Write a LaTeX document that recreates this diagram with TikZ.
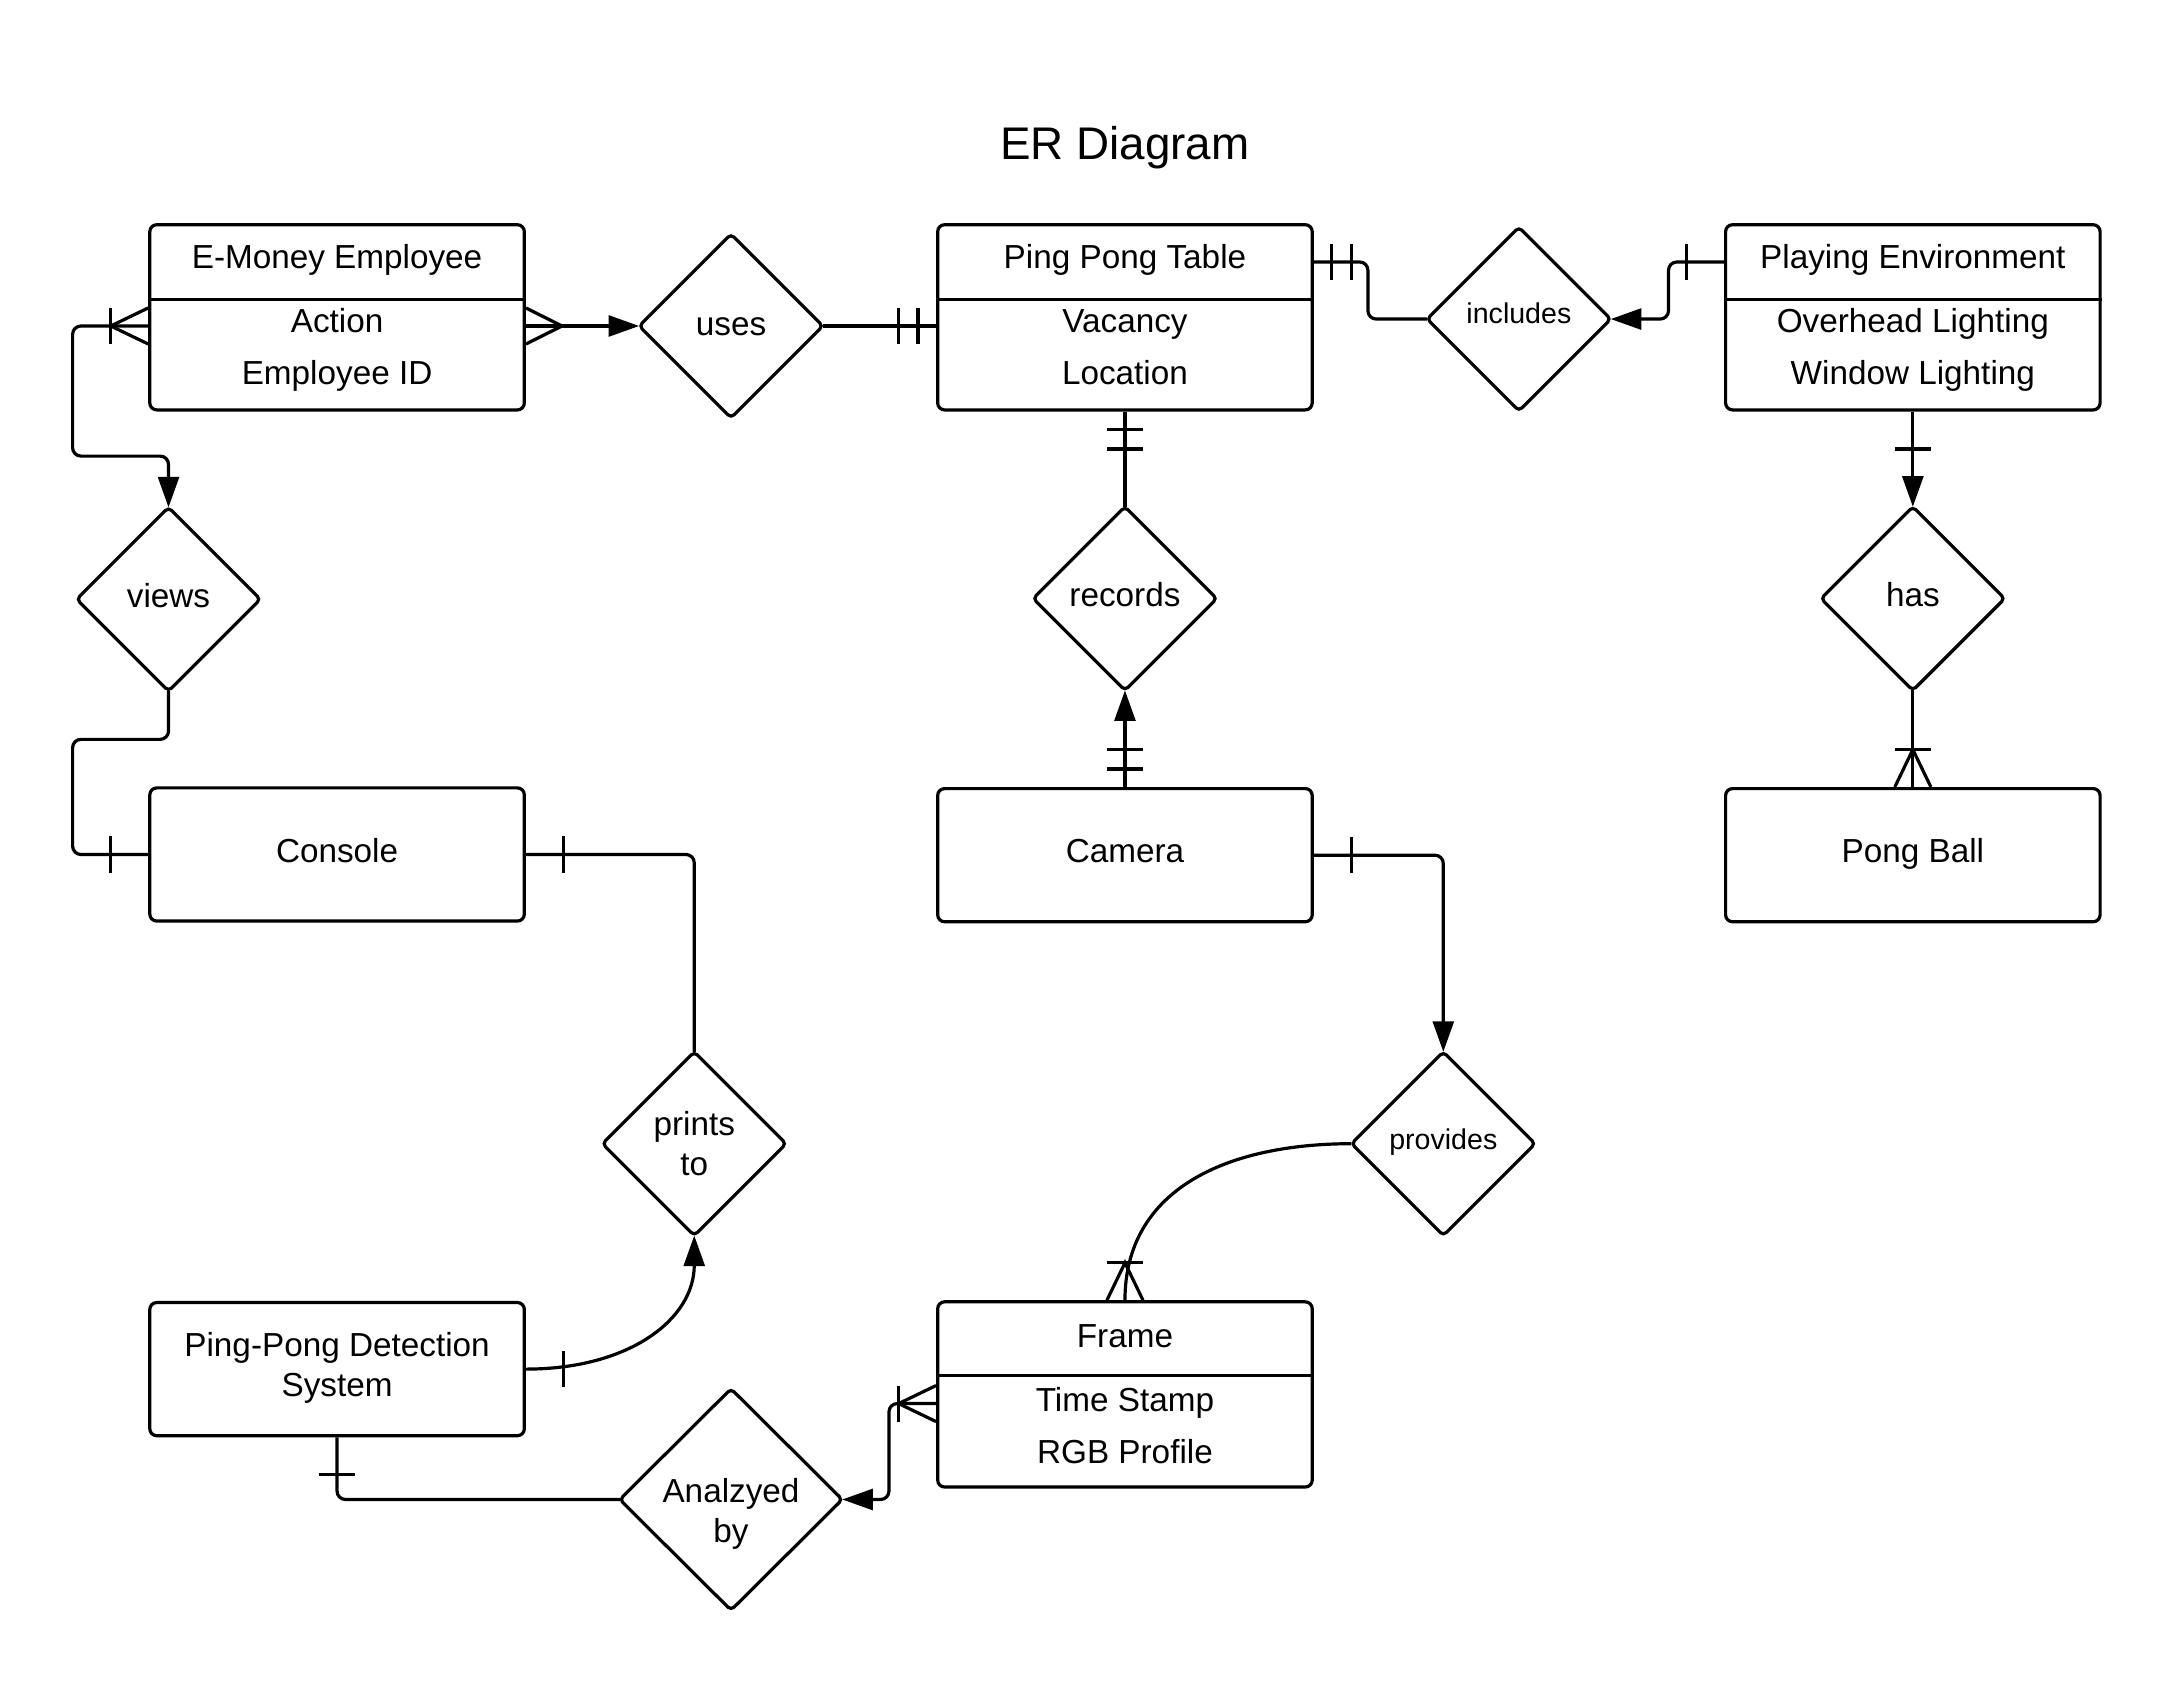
\documentclass[tikz,border=0pt]{standalone}
\usepackage{fontspec}
\setmainfont{Liberation Sans}
\usetikzlibrary{arrows.meta,shapes.geometric,calc}
\tikzset{
  ent/.style={draw, rounded corners=2.5pt, minimum width=135pt, inner sep=0pt},
  attrent/.style={ent, minimum height=66.75pt},
  simpent/.style={ent, minimum height=48pt},
  rel/.style={draw, diamond, rounded corners=1.5pt, minimum width=66.2pt, minimum height=66.2pt, inner sep=0pt, outer sep=0pt},
  txt/.style={anchor=base, inner sep=0pt, font=\fontsize{12pt}{14pt}\selectfont},
  smalltxt/.style={anchor=base, inner sep=0pt, font=\fontsize{10.3pt}{12pt}\selectfont},
  titletxt/.style={anchor=base, inner sep=0pt, font=\fontsize{16.5pt}{20pt}\selectfont},
  conn/.style={rounded corners=3pt},
  arr/.style={conn, -{Triangle[length=11pt,width=7.5pt]}},
  onebar/.pic={\draw (27,-13) -- (27,13);},
  twobar/.pic={\draw (13,-13) -- (13,13) (27,-13) -- (27,13);},
  onemany/.pic={\draw (0,-13) -- (27,0) -- (0,13); \draw (27,-13) -- (27,13);},
  many/.pic={\draw (0,-13) -- (26,0) -- (0,13);}
}
\begin{document}
\begin{tikzpicture}[x=0.5pt,y=-0.5pt,line width=1.15pt]
\useasboundingbox (0,0) rectangle (1568,1217);

% title
\node[titletxt] (title) at (811,115.3) {ER Diagram};

% entities
\node[attrent] (emp) at (243,228.75) {};
\node[attrent] (tbl) at (811,228.75) {};
\node[attrent] (env) at (1379,228.75) {};
\node[simpent] (console) at (243,616) {};
\node[simpent] (camera) at (811,616.5) {};
\node[simpent] (ball) at (1379,616.5) {};
\node[simpent] (ppds) at (243,987) {};
\node[attrent] (frame) at (811,1005.25) {};

% dividers
\draw ($(emp.north west)+(0,54.8)$) -- ($(emp.north east)+(0,54.8)$);
\draw ($(tbl.north west)+(0,54.8)$) -- ($(tbl.north east)+(0,54.8)$);
\draw ($(env.north west)+(0,54.8)$) -- ($(env.north east)+(0,54.8)$);
\draw ($(frame.north west)+(0,54)$) -- ($(frame.north east)+(0,54)$);

% entity texts
\node[txt] (empA) at (243,193.5) {E-Money Employee};
\node[txt] (empB) at (243,239.5) {Action};
\node[txt] (empC) at (243,277.5) {Employee ID};
\node[txt] (tblA) at (811,193.5) {Ping Pong Table};
\node[txt] (tblB) at (811,239.5) {Vacancy};
\node[txt] (tblC) at (811,277.5) {Location};
\node[txt] (envA) at (1379,193.5) {Playing Environment};
\node[txt] (envB) at (1379,239.5) {Overhead Lighting};
\node[txt] (envC) at (1379,277.5) {Window Lighting};
\node[txt] (consoleA) at (243,622) {Console};
\node[txt] (cameraA) at (811,622) {Camera};
\node[txt] (ballA) at (1379,622) {Pong Ball};
\node[txt] (ppdsA) at (243,977.7) {Ping-Pong Detection};
\node[txt] (ppdsB) at (243,1007) {System};
\node[txt] (frameA) at (811,971.5) {Frame};
\node[txt] (frameB) at (811,1017.5) {Time Stamp};
\node[txt] (frameC) at (811,1055) {RGB Profile};

% relationships
\node[rel] (uses) at (527,235) {};
\node[rel] (includes) at (1095,230) {};
\node[rel] (views) at (121.5,432) {};
\node[rel] (records) at (811,431.5) {};
\node[rel] (has) at (1379,431.5) {};
\node[rel] (prints) at (500.5,824.5) {};
\node[rel] (provides) at (1040.5,824.5) {};
\node[rel, minimum width=80.2pt, minimum height=79.8pt] (analyzed) at (527,1081) {};

\node[txt] (usesT) at (527,241.5) {uses};
\node[smalltxt] (includesT) at (1095,233.5) {includes};
\node[txt] (viewsT) at (121.5,438) {views};
\node[txt] (recordsT) at (811,437.5) {records};
\node[txt] (hasT) at (1379,437.5) {has};
\node[txt] (printsA) at (500.5,818.3) {prints};
\node[txt] (printsB) at (500.5,847.5) {to};
\node[smalltxt] (providesT) at (1040.5,828.5) {provides};
\node[txt] (analyzedA) at (527,1083.4) {Analzyed};
\node[txt] (analyzedB) at (527,1111.8) {by};

% connectors
% E-Money -> uses
\draw[arr] (emp.east |- uses.west) -- (uses.west);
\pic at (emp.east |- uses.west) {many};
% uses -> table
\draw[conn] (uses.east) -- (tbl.west |- uses.east);
\pic[rotate=180] at (tbl.west |- uses.east) {twobar};
% table -> includes
\coordinate (tblR) at ($(tbl.north east)+(0,28)$);
\draw[conn] (tblR) -- ++(39,0) |- (includes.west);
\pic at (tblR) {twobar};
% environment -> includes
\coordinate (envL) at ($(env.north west)+(0,28)$);
\draw[arr] (envL) -- ++(-40,0) |- (includes.east);
\pic[rotate=180] at (envL) {onebar};
% table -> records
\draw[conn] (tbl.south) -- (records.north);
\pic[rotate=-90] at (tbl.south) {twobar};
% camera -> records
\draw[arr] (camera.north) -- (records.south);
\pic[rotate=90] at (camera.north) {twobar};
% environment -> has
\draw[arr] (env.south) -- (has.north);
\pic[rotate=-90] at (env.south) {onebar};
% has -> pong ball
\draw[conn] (has.south) -- (ball.north);
\pic[rotate=90] at (ball.north) {onemany};
% E-Money -> views
\draw[arr] (emp.west |- uses.west) -- ++(-54.5,0) |- ($(views.north)+(0,-37)$) -- (views.north);
\pic[rotate=180] at (emp.west |- uses.west) {onemany};
% views -> console
\draw[conn] (views.south) |- ($(console.west)+(-54.5,-83)$) |- (console.west);
\pic[rotate=180] at (console.west) {onebar};
% console -> prints to
\draw[conn] (console.east) -| (prints.north);
\pic at (console.east) {onebar};
% detection system -> prints to
\draw[arr] (ppds.east) .. controls +(75,0) and +(0,60) .. (prints.south);
\pic at (ppds.east) {onebar};
% detection system -> analyzed by
\draw[conn] (ppds.south) |- (analyzed.west);
\pic[rotate=-90] at (ppds.south) {onebar};
% frame -> analyzed by
\coordinate (frL) at ($(frame.north west)+(0,74.5)$);
\draw[arr] (frL) -- ++(-34,0) |- (analyzed.east);
\pic[rotate=180] at (frL) {onemany};
% camera -> provides
\draw[arr] (camera.east) -| (provides.north);
\pic at (camera.east) {onebar};
% provides -> frame
\draw[conn] (provides.west) .. controls +(-90,0) and +(0,-80) .. (frame.north);
\pic[rotate=90] at (frame.north) {onemany};
\end{tikzpicture}
\end{document}
